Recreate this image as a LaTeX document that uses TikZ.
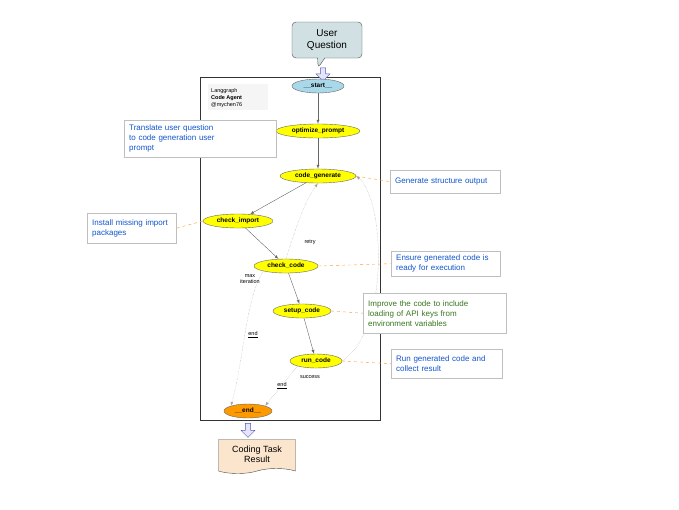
\documentclass[tikz,border=0pt]{standalone}
\usepackage{fontspec}
\setmainfont{Liberation Sans}
\usetikzlibrary{shapes.geometric,shapes.callouts,shapes.arrows,shapes.symbols}
\definecolor{nodeyel}{HTML}{FFFF00}
\definecolor{startblue}{HTML}{A9D8E8}
\definecolor{endorange}{HTML}{FF9900}
\definecolor{userbox}{HTML}{D0E0E3}
\definecolor{docbox}{HTML}{FCE5CD}
\definecolor{notetxt}{HTML}{1155CC}
\definecolor{greentxt}{HTML}{38761D}
\definecolor{edgegray}{HTML}{666666}
\tikzset{
  gnode/.style={ellipse, draw=edgegray, fill=nodeyel, font=\fontsize{6.5}{7}\selectfont\bfseries, inner sep=0pt, minimum height=14pt},
  flow/.style={draw=edgegray, -latex},
  loop/.style={draw=gray!70, densely dotted, -latex},
  note/.style={draw=gray!50, fill=white, font=\fontsize{8}{10}\selectfont, text=notetxt, align=left, anchor=north west, inner xsep=5pt},
  link/.style={draw=orange!80, dashed},
  lbl/.style={font=\fontsize{5.5}{6.5}\selectfont, align=center}
}
\begin{document}
\begin{tikzpicture}[x=1pt,y=-1pt]
\useasboundingbox (0,0) rectangle (679,509);
% frame
\draw[thick, black!80] (200,77) rectangle (380,420);
% user question callout
\node[rectangle callout, rounded corners=4pt, draw=black!70, fill=userbox, minimum width=70pt, minimum height=36pt, align=center, font=\fontsize{10}{12}\selectfont, callout absolute pointer={(318,68)}] (uq) at (327,40) {User\\Question};
\node[single arrow, draw=gray!70!blue, fill=blue!10, shape border rotate=270, minimum width=14pt, single arrow head extend=2pt, minimum height=13pt, inner sep=1pt] (a1) at (323,73) {};
% author note
\fill[gray!8] (208,84) rectangle (268,110);
\node[anchor=north west, align=left, inner sep=0pt, font=\fontsize{5.5}{7}\selectfont] (auth) at (211,88) {Langgraph\\\textbf{Code Agent}\\@mychen76};
% nodes
\node[gnode, fill=startblue, minimum width=52pt] (start) at (318,86) {\_\_start\_\_};
\node[gnode, minimum width=84pt] (opt) at (318,131) {optimize\_prompt};
\node[gnode, minimum width=76pt] (cg) at (318,176) {code\_generate};
\node[gnode, minimum width=70pt] (ci) at (238,221) {check\_import};
\node[gnode, minimum width=64pt] (cc) at (286,266) {check\_code};
\node[gnode, minimum width=58pt] (sc) at (302,311) {setup\_code};
\node[gnode, minimum width=52pt] (rc) at (316,361) {run\_code};
\node[gnode, fill=endorange, minimum width=48pt] (end) at (248,411) {\_\_end\_\_};
% result
\node[single arrow, draw=gray!70!blue, fill=blue!10, shape border rotate=270, minimum width=14pt, single arrow head extend=2pt, minimum height=14pt, inner sep=1pt] (a2) at (248,429) {};
\node[tape, tape bend top=none, draw=black!70, fill=docbox, minimum width=77pt, minimum height=34pt, align=center, font=\fontsize{9}{10}\selectfont] (res) at (257,454) {Coding Task\\Result};
% flow edges
\draw[flow] (start) -- (opt);
\draw[flow] (opt) -- (cg);
\draw[flow] (cg) -- (ci);
\draw[flow] (ci) -- (cc);
\draw[flow] (cc) -- (sc);
\draw[flow] (sc) -- (rc);
% conditional edges
\draw[loop] (cc.north) .. controls (295,230) and (305,200) .. (cg.south);
\node[lbl] (lretry) at (310,242) {retry};
\draw[loop] (rc.east) .. controls (390,330) and (385,200) .. (cg.east);
\draw[loop] (cc.south west) .. controls (245,300) and (244,360) .. (end.north west);
\node[lbl] (lmax) at (250,279) {max\\iteration};
\node[lbl] (lend1) at (253,335) {\underline{end}};
\draw[loop] (rc.south west) -- (end.north east);
\node[lbl] (lsucc) at (310,377) {success};
\node[lbl] (lend2) at (282,386) {\underline{end}};
% notes
\node[note, text width=142pt, minimum height=37pt] (n1) at (124,120) {Translate user question\\to code generation user\\prompt};
\node[note, text width=100pt, minimum height=23pt] (n2) at (390,170) {Generate structure output};
\node[note, text width=79pt, minimum height=30pt] (n3) at (87,213) {Install missing import\\packages};
\node[note, text width=99pt, minimum height=25pt] (n4) at (391,251) {Ensure generated code is\\ready for execution};
\node[note, text width=133pt, minimum height=40pt, text=greentxt] (n5) at (363,293) {Improve the code to include\\loading of API keys from\\environment variables};
\node[note, text width=101pt, minimum height=29pt] (n6) at (391,349) {Run generated code and\\collect result};
\draw[link] (opt.west) -- (n1.east |- opt.west);
\draw[link] (cg.east) -- (n2.west);
\draw[link] (ci.west) -- (n3.east);
\draw[link] (cc.east) -- (n4.west);
\draw[link] (sc.east) -- (n5.west);
\draw[link] (rc.east) -- (n6.west);
\end{tikzpicture}
\end{document}
